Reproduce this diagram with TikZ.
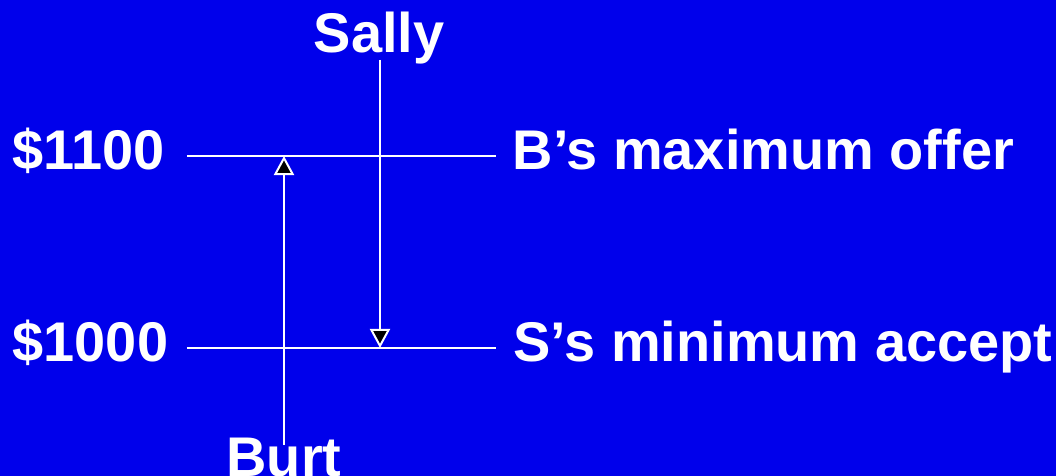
\documentclass[tikz,border=0pt]{standalone}
\usepackage{fontspec}
\setmainfont{Liberation Sans}
\usetikzlibrary{positioning}
\usetikzlibrary{arrows.meta}
\definecolor{slideblue}{RGB}{0,0,235}
\tikzset{
  % white slide text
  lbl/.style={text=white, font=\fontsize{15.9}{18}\selectfont\bfseries, inner sep=0pt},
  % price levels
  level/.style={draw=white, line width=0.02cm},
  % offers moving towards the other side
  offer/.style={draw=white, line width=0.02cm, -{Triangle[fill=black, width=0.2cm, length=0.19cm]}},
}

\begin{document}
\begin{tikzpicture}[x=0.01cm, y=-0.01cm]
  \useasboundingbox (0,0) rectangle (1056,476);
  \fill[slideblue] (0,0) rectangle (1056,476);

  \node[lbl, anchor=base west] (p1100) at (12,170) {\$1100};
  \node[lbl, anchor=base west] (p1000) at (12,362) {\$1000};
  \node[lbl, anchor=base west] (bmax) at (512,170) {B’s maximum offer};
  \node[lbl, anchor=base west] (smin) at (513,362) {S’s minimum accept};
  \node[lbl, anchor=base] (sally) at (379,53) {Sally};
  \node[lbl, anchor=base] (burt) at (284,477) {Burt};

  \coordinate (hiL) at (187,156);
  \coordinate (hiR) at (496,156);
  \coordinate (loL) at (187,348);
  \coordinate (loR) at (496,348);
  \coordinate (sTop) at (380,60);
  \coordinate (bBot) at (284,445);

  \draw[level] (hiL) -- (hiR);
  \draw[level] (loL) -- (loR);

  \draw[offer] (sTop) -- (sTop |- loL);
  \draw[offer] (bBot) -- (bBot |- hiL);
\end{tikzpicture}
\end{document}
